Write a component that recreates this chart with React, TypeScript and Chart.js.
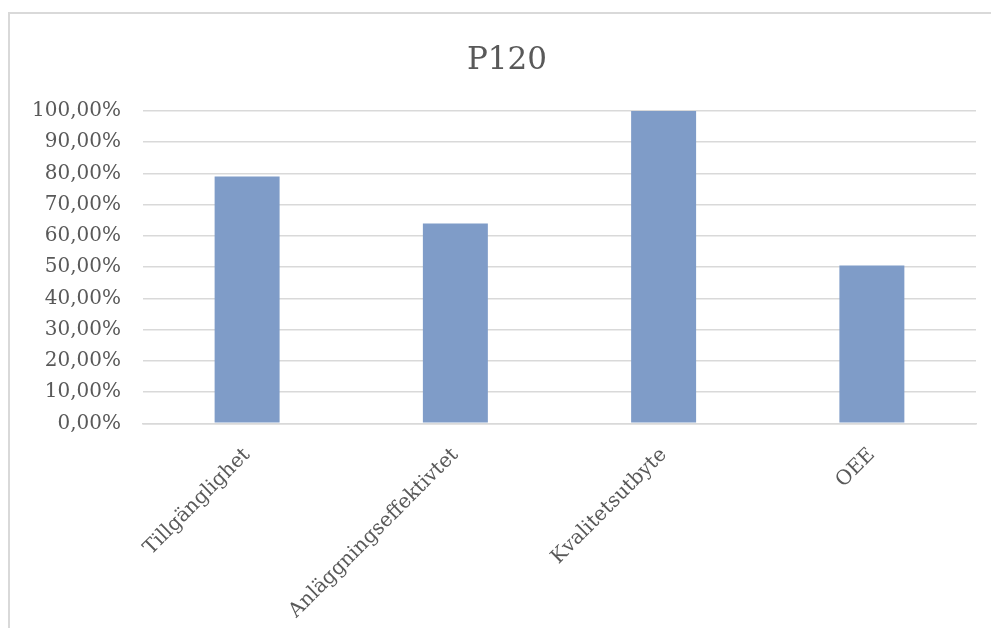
import React, { useEffect, useRef } from "react";
import { Chart, registerables } from "chart.js";

Chart.register(...registerables);

const TITLE = "P120";
const categories = ["Tillgänglighet", "Anläggningseffektivtet", "Kvalitetsutbyte", "OEE"];
const values = [79.0, 64.0, 100.0, 50.56];
const yMin = 0;
const yMax = 100;
const yStep = 10;

const FONT = "'DejaVu Serif', serif";
const TEXT = "#595959";
const GRID = "#d9d9d9";
const BAR = "#7F9CC8";

// Title centred on the whole chart frame (not only on the padded layout box)
const frameTitle = {
  id: "frameTitle",
  afterDraw(chart: any) {
    const ctx = chart.ctx;
    ctx.save();
    ctx.fillStyle = TEXT;
    ctx.font = `normal 31px ${FONT}`;
    ctx.textAlign = "center";
    ctx.textBaseline = "alphabetic";
    ctx.fillText(TITLE, chart.width / 2, 55);
    ctx.restore();
  },
};

export default function App() {
  const ref = useRef<HTMLCanvasElement | null>(null);
  useEffect(() => {
    if (!ref.current) return;
    const chart = new Chart(ref.current, {
      type: "bar",
      data: {
        labels: categories,
        datasets: [
          {
            data: values,
            backgroundColor: BAR,
            borderWidth: 0,
            categoryPercentage: 1,
            barPercentage: 0.312,
          },
        ],
      },
      options: {
        responsive: false,
        animation: false,
        devicePixelRatio: 1,
        layout: { padding: { left: 0, right: 28, top: 97, bottom: 0 } },
        plugins: {
          legend: { display: false },
          tooltip: { enabled: false },
          title: { display: false },
        },
        scales: {
          x: {
            grid: { display: false, drawTicks: false },
            border: { display: true, color: GRID, width: 1.5 },
            ticks: {
              color: TEXT,
              font: { family: FONT, size: 20 },
              minRotation: 45,
              maxRotation: 45,
              padding: 20,
              autoSkip: false,
            },
          },
          y: {
            min: yMin,
            max: yMax,
            grid: { color: GRID, lineWidth: 1.5, drawTicks: false },
            border: { display: false },
            ticks: {
              stepSize: yStep,
              color: TEXT,
              font: { family: FONT, size: 20 },
              padding: 22,
              callback: (v: any) => Number(v).toFixed(2).replace(".", ",") + "%",
            },
          },
        },
      },
      plugins: [frameTitle],
    });
    return () => chart.destroy();
  }, []);

  return (
    <div style={{ position: "fixed", left: 0, top: 0, width: 991, height: 628, overflow: "hidden", background: "#fff" }}>
      <div
        style={{
          position: "absolute",
          left: 8,
          top: 12,
          width: 1000,
          height: 700,
          border: "2px solid #d9d9d9",
          boxSizing: "border-box",
        }}
      >
        <canvas ref={ref} width={994} height={629} style={{ display: "block", width: 994, height: 629 }} />
      </div>
    </div>
  );
}
